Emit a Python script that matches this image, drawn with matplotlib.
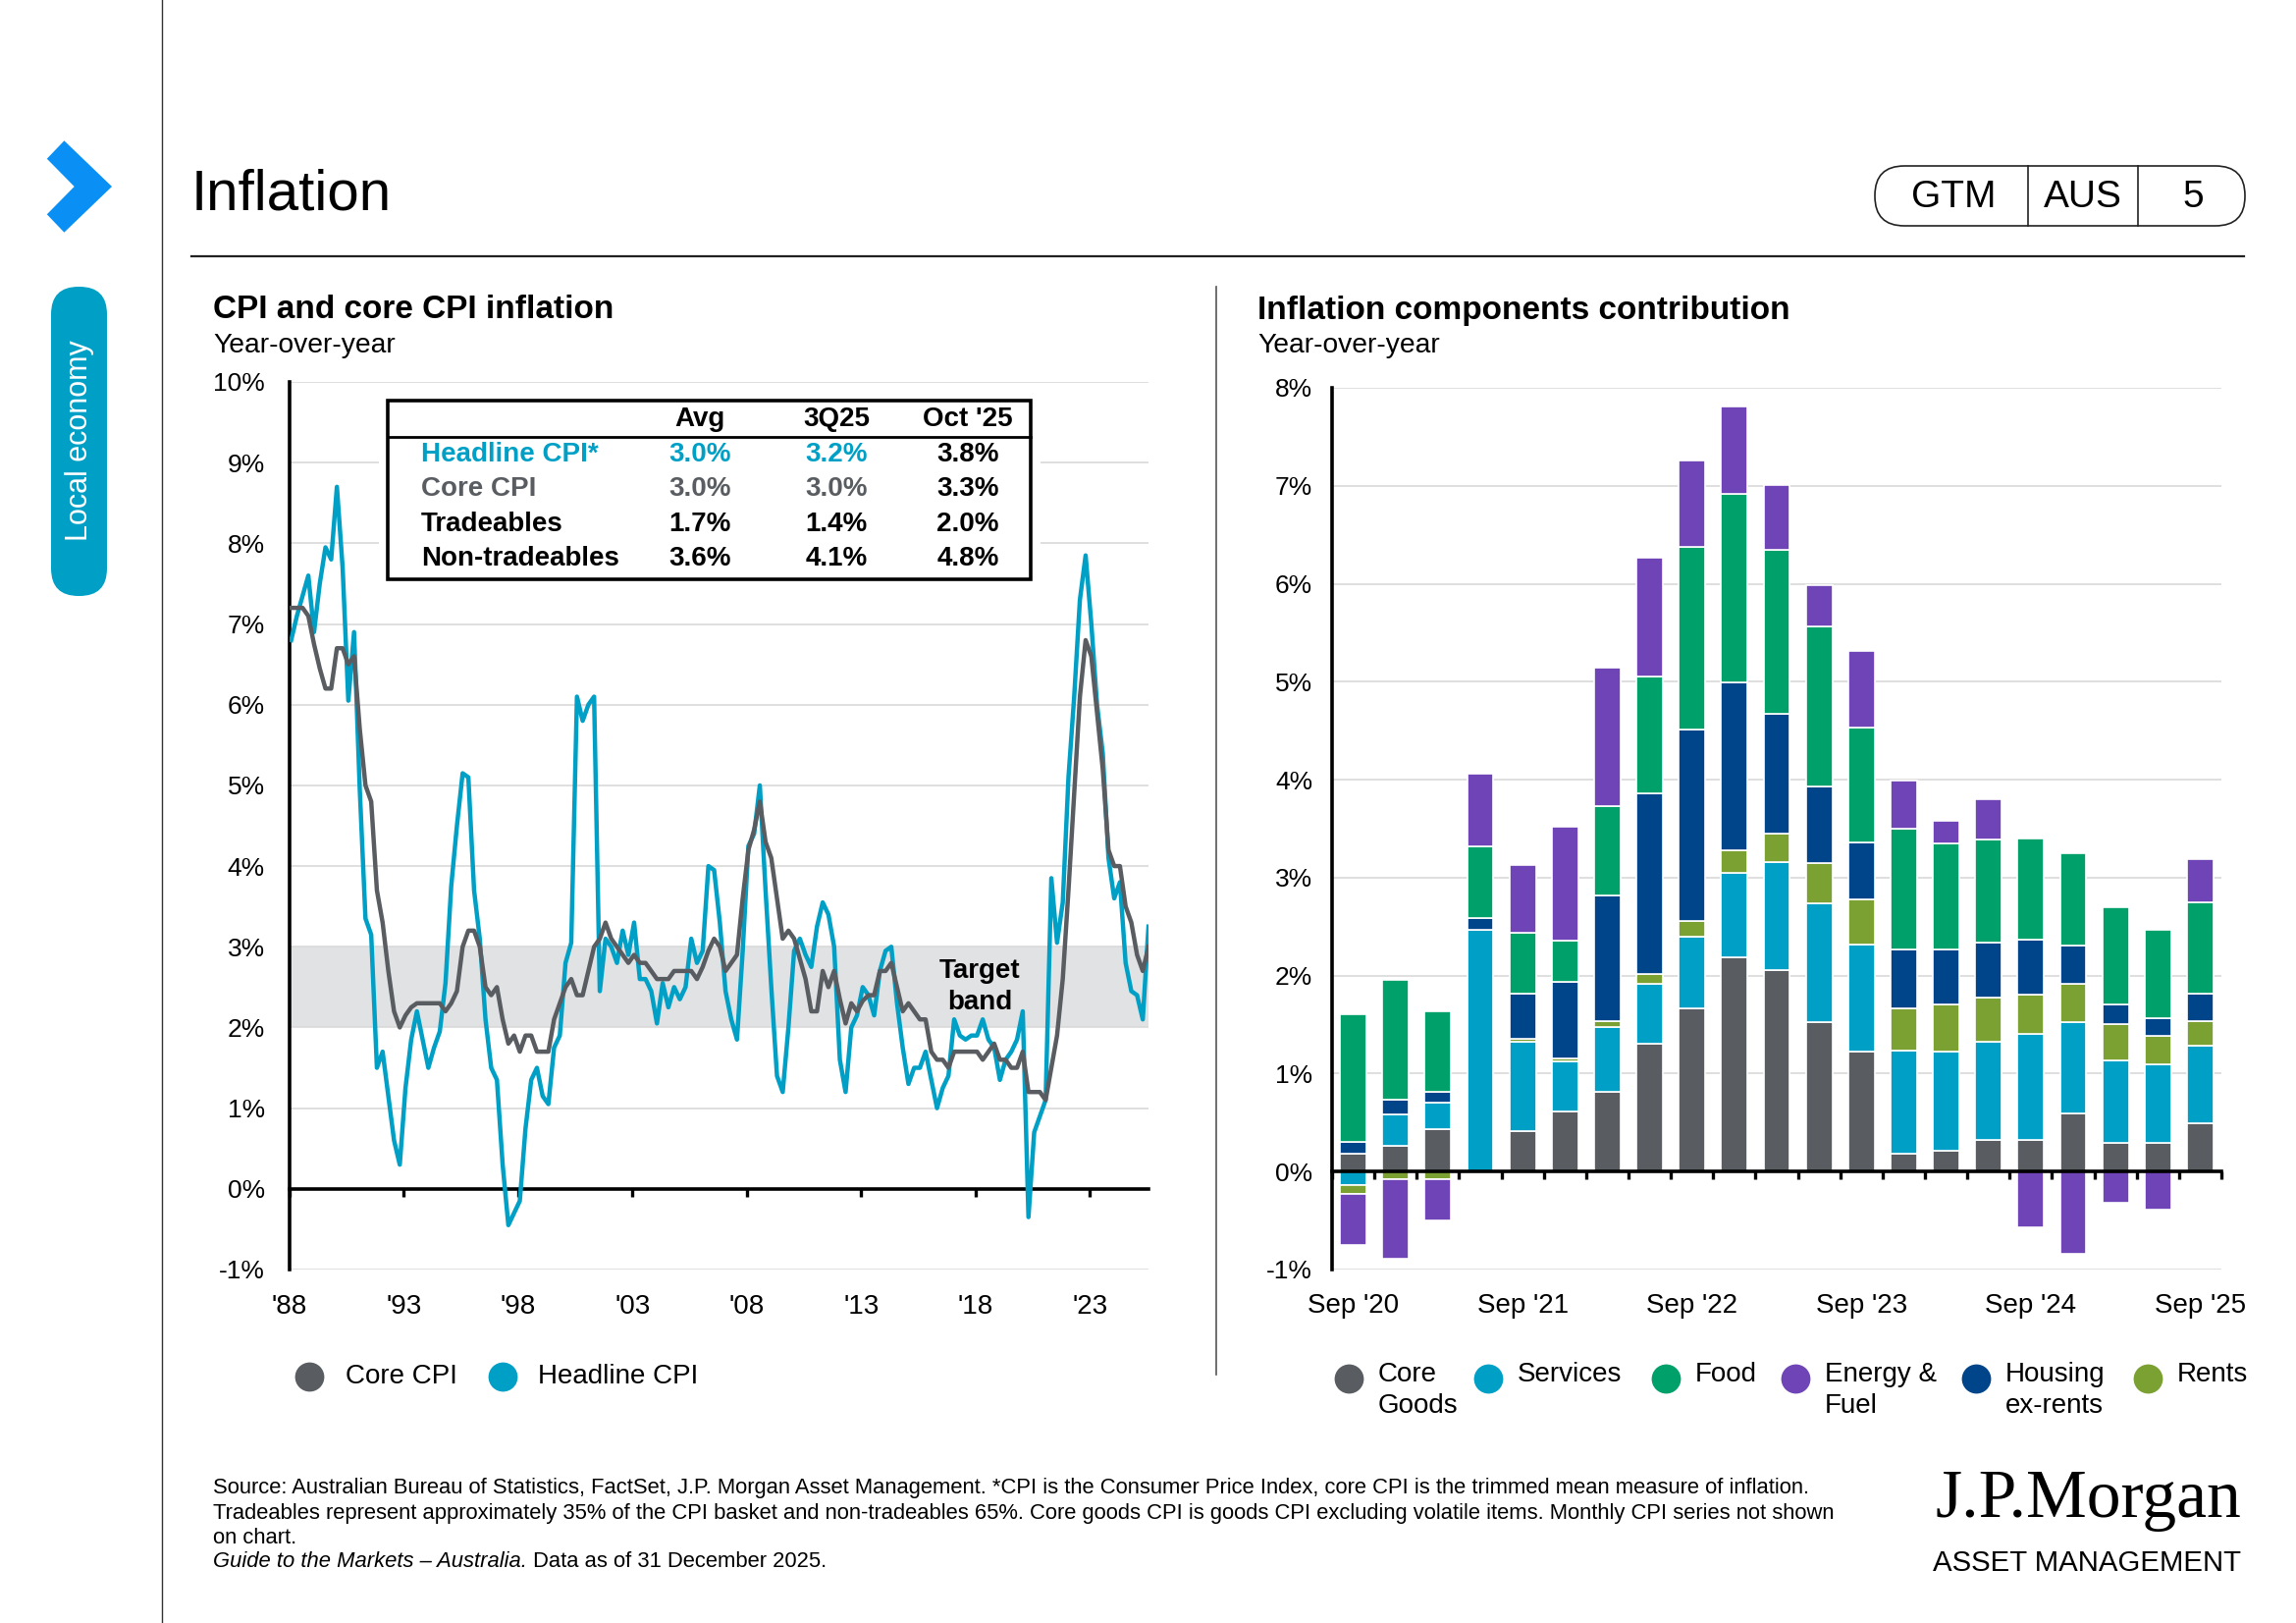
import numpy as np
import pandas as pd
import matplotlib
matplotlib.use("Agg")
import matplotlib.pyplot as plt
from matplotlib.patches import Rectangle, FancyBboxPatch, Polygon

plt.rcParams['font.family'] = ['Liberation Sans', 'DejaVu Sans']

W, H = 2339, 1653
DPI = 200

TEAL = '#00A0C6'
GREY = '#595D61'
GREEN = '#00A06B'
PURPLE = '#6F44B7'
NAVY = '#00448A'
OLIVE = '#7BA132'
BAND = '#E1E2E4'
GRID = '#D9D9D9'
BLUE = '#0A90F5'

# ---------------- left chart: y/y %, quarterly Mar-1988 .. Sep-2025
quarters = pd.period_range('1988Q1', '2025Q3', freq='Q')
headline_cpi = [
    6.8, 7.1, 7.35, 7.6,    6.9, 7.5, 7.95, 7.8,    8.7, 7.7, 6.05, 6.9,
    4.95, 3.35, 3.15, 1.5,  1.7, 1.15, 0.6, 0.3,    1.25, 1.85, 2.2, 1.85,
    1.5, 1.75, 1.95, 2.55,  3.75, 4.5, 5.15, 5.1,   3.7, 3.1, 2.1, 1.5,
    1.35, 0.3, -0.45, -0.3, -0.15, 0.75, 1.35, 1.5, 1.15, 1.05, 1.75, 1.9,
    2.8, 3.05, 6.1, 5.8,    6.0, 6.1, 2.45, 3.1,    3.0, 2.8, 3.2, 2.9,
    3.3, 2.6, 2.6, 2.45,    2.05, 2.55, 2.25, 2.5,  2.35, 2.5, 3.1, 2.8,
    2.95, 4.0, 3.95, 3.3,   2.45, 2.1, 1.85, 2.95,  4.25, 4.4, 5.0, 3.7,
    2.5, 1.4, 1.2, 2.0,     2.95, 3.1, 2.9, 2.75,   3.25, 3.55, 3.4, 3.0,
    1.6, 1.2, 2.0, 2.15,    2.5, 2.4, 2.15, 2.7,    2.95, 3.0, 2.3, 1.75,
    1.3, 1.5, 1.5, 1.7,     1.35, 1.0, 1.25, 1.4,   2.1, 1.9, 1.85, 1.9,
    1.9, 2.1, 1.85, 1.75,   1.35, 1.6, 1.7, 1.85,   2.2, -0.35, 0.7, 0.9,
    1.1, 3.85, 3.05, 3.55,  5.1, 6.1, 7.3, 7.85,    7.0, 6.0, 5.4, 4.1,
    3.6, 3.8, 2.8, 2.45,    2.4, 2.1, 3.25,
]
core_cpi = [
    7.2, 7.2, 7.2, 7.1,     6.75, 6.45, 6.2, 6.2,   6.7, 6.7, 6.5, 6.6,
    5.7, 5.0, 4.8, 3.7,     3.3, 2.7, 2.2, 2.0,     2.15, 2.25, 2.3, 2.3,
    2.3, 2.3, 2.3, 2.2,     2.3, 2.45, 3.0, 3.2,    3.2, 3.0, 2.5, 2.4,
    2.5, 2.1, 1.8, 1.9,     1.7, 1.9, 1.9, 1.7,     1.7, 1.7, 2.1, 2.3,
    2.5, 2.6, 2.4, 2.4,     2.7, 3.0, 3.1, 3.3,     3.1, 3.0, 2.9, 2.8,
    2.9, 2.8, 2.8, 2.7,     2.6, 2.6, 2.6, 2.7,     2.7, 2.7, 2.7, 2.6,
    2.75, 2.95, 3.1, 3.0,   2.7, 2.8, 2.9, 3.6,     4.2, 4.45, 4.8, 4.3,
    4.1, 3.6, 3.1, 3.2,     3.1, 2.85, 2.6, 2.2,    2.2, 2.7, 2.5, 2.7,
    2.35, 2.05, 2.3, 2.2,   2.33, 2.4, 2.4, 2.7,    2.7, 2.8, 2.5, 2.2,
    2.3, 2.2, 2.1, 2.1,     1.7, 1.6, 1.6, 1.5,     1.7, 1.7, 1.7, 1.7,
    1.7, 1.6, 1.7, 1.8,     1.6, 1.6, 1.5, 1.5,     1.7, 1.2, 1.2, 1.2,
    1.1, 1.5, 1.9, 2.6,     3.7, 4.9, 6.1, 6.8,     6.6, 5.9, 5.2, 4.2,
    4.0, 4.0, 3.5, 3.3,     2.9, 2.7, 3.0,
]
target_band = (2, 3)
year_ticks = list(range(1988, 2024, 5))

table_rows = ['Headline CPI*', 'Core CPI', 'Tradeables', 'Non-tradeables']
table_cols = ['Avg', '3Q25', "Oct '25"]
table_avg = ['3.0%', '3.0%', '1.7%', '3.6%']
table_3q25 = ['3.2%', '3.0%', '1.4%', '4.1%']
table_oct25 = ['3.8%', '3.3%', '2.0%', '4.8%']

# ---------------- right chart: contribution to y/y CPI, ppt, Sep-20 .. Sep-25
comp_quarters = pd.period_range('2020Q3', '2025Q3', freq='Q')
core_goods = [0.18, 0.26, 0.43, 0.00, 0.41, 0.61, 0.81, 1.31, 1.67, 2.19, 2.06,
              1.53, 1.22, 0.18, 0.21, 0.32, 0.32, 0.59, 0.29, 0.29, 0.49]
services = [-0.14, 0.32, 0.27, 2.47, 0.92, 0.51, 0.67, 0.61, 0.73, 0.86, 1.10,
            1.21, 1.10, 1.05, 1.01, 1.01, 1.09, 0.94, 0.84, 0.80, 0.80]
rents = [-0.09, -0.08, -0.08, 0.00, 0.03, 0.03, 0.06, 0.10, 0.16, 0.23, 0.29,
         0.41, 0.46, 0.44, 0.49, 0.45, 0.40, 0.39, 0.38, 0.30, 0.25]
housing_ex_rents = [0.12, 0.15, 0.11, 0.12, 0.46, 0.79, 1.28, 1.84, 1.95, 1.71, 1.22,
                    0.78, 0.58, 0.60, 0.56, 0.56, 0.56, 0.39, 0.20, 0.18, 0.28]
food = [1.31, 1.23, 0.83, 0.73, 0.62, 0.42, 0.91, 1.19, 1.87, 1.93, 1.68,
        1.63, 1.17, 1.23, 1.08, 1.05, 1.03, 0.94, 0.99, 0.90, 0.93]
energy_fuel = [-0.52, -0.81, -0.42, 0.74, 0.69, 1.16, 1.41, 1.22, 0.88, 0.89, 0.66,
               0.43, 0.78, 0.49, 0.23, 0.41, -0.57, -0.84, -0.32, -0.39, 0.44]

# stacking order bottom -> top, legend order differs
stack = [('Core Goods', core_goods, GREY), ('Services', services, TEAL),
         ('Rents', rents, OLIVE), ('Housing ex-rents', housing_ex_rents, NAVY),
         ('Food', food, GREEN), ('Energy & Fuel', energy_fuel, PURPLE)]
comp_legend = [('Core\nGoods', GREY), ('Services', TEAL), ('Food', GREEN),
               ('Energy &\nFuel', PURPLE), ('Housing\nex-rents', NAVY), ('Rents', OLIVE)]


def rect(x0, y0, x1, y1):
    return [x0 / W, 1 - y1 / H, (x1 - x0) / W, (y1 - y0) / H]


fig = plt.figure(figsize=(W / DPI, H / DPI), dpi=DPI)

# ================= left chart
ax1 = fig.add_axes(rect(295, 389, 1170, 1293))
x = np.array([q.year + (q.quarter - 1) / 4 + 0.07 for q in quarters])
ax1.axhspan(*target_band, color=BAND, zorder=0, lw=0)
ax1.plot(x, headline_cpi, color=TEAL, lw=1.6, zorder=3, solid_joinstyle='round')
ax1.plot(x, core_cpi, color=GREY, lw=1.6, zorder=4, solid_joinstyle='round')
ax1.set_xlim(1988, x[-1])
ax1.set_ylim(-1, 10)
ax1.set_yticks(range(-1, 11))
ax1.set_yticklabels([f'{v}%' for v in range(-1, 11)])
ax1.yaxis.grid(True, color=GRID, lw=0.6)
ax1.set_axisbelow(True)
ax1.set_xticks(year_ticks)
ax1.set_xticklabels([f"'{str(y)[2:]}" for y in year_ticks])
ax1.text(2018.2, 2.5, 'Target\nband', ha='center', va='center', fontsize=10,
         fontweight='bold', linespacing=1.3, zorder=5)

# ================= right chart
ax2 = fig.add_axes(rect(1357, 395, 2263, 1293))
pos = np.arange(len(comp_quarters))
pos_base = np.zeros(len(pos))
neg_base = np.zeros(len(pos))
for name, vals, col in stack:
    v = np.array(vals)
    bottom = np.where(v >= 0, pos_base, neg_base)
    ax2.bar(pos, v, 0.62, bottom=bottom, color=col, edgecolor='white', linewidth=0.6, zorder=2)
    pos_base += np.where(v >= 0, v, 0)
    neg_base += np.where(v < 0, v, 0)
ax2.set_xlim(-0.5, len(pos) - 0.5)
ax2.set_ylim(-1, 8)
ax2.set_yticks(range(-1, 9))
ax2.set_yticklabels([f'{v}%' for v in range(-1, 9)])
ax2.yaxis.grid(True, color=GRID, lw=0.6)
ax2.set_axisbelow(True)
sep_idx = [i for i, q in enumerate(comp_quarters) if q.quarter == 3]
ax2.set_xticks(sep_idx)
ax2.set_xticklabels([f"Sep '{str(comp_quarters[i].year)[2:]}" for i in sep_idx])
ax2.set_xticks(np.arange(-0.5, len(pos), 1), minor=True)

for ax, ypad, xpad, tl in ((ax1, 9, 36, 2.7), (ax2, 7.2, 44.6, 0)):
    for s in ('top', 'right'):
        ax.spines[s].set_visible(False)
    ax.spines['left'].set_linewidth(1.3)
    ax.spines['bottom'].set_linewidth(1.3)
    ax.spines['bottom'].set_position(('data', 0))
    ax.tick_params(axis='y', length=0, pad=ypad, labelsize=9.5)
    ax.tick_params(axis='x', which='major', length=tl, width=1.2, direction='out',
                   pad=xpad, labelsize=10)
ax2.tick_params(axis='x', which='minor', length=2.9, width=1.2, direction='out')

# ================= page decoration (pixel coordinates)
deco = fig.add_axes([0, 0, 1, 1], zorder=10)
deco.set_xlim(0, W)
deco.set_ylim(H, 0)
deco.axis('off')

deco.plot([165, 165], [0, H], color='#333333', lw=0.5)
deco.add_patch(Polygon([(47.8, 161.7), (65.4, 143.3), (114, 190), (65.4, 236.7),
                        (47.8, 218.3), (75.7, 190)], closed=True, color=BLUE, lw=0))
deco.add_patch(FancyBboxPatch((52, 292), 57, 315, boxstyle='round,pad=0,rounding_size=28',
                              color=TEAL, lw=0))
deco.text(80.5, 449, 'Local economy', rotation=90, color='white', fontsize=11,
          ha='center', va='center')

deco.text(195, 199, 'Inflation', fontsize=21, ha='left', va='center')
deco.plot([195, 2286], [261, 261], color='#222222', lw=0.8)

deco.add_patch(FancyBboxPatch((1910, 169), 377, 61, boxstyle='round,pad=0,rounding_size=30',
                              facecolor='white', edgecolor='#222222', lw=0.6))
for xd in (2066, 2178):
    deco.plot([xd, xd], [169, 230], color='#222222', lw=0.6)
for xt, s in ((1990, 'GTM'), (2122, 'AUS'), (2234, '5')):
    deco.text(xt, 201, s, fontsize=14, ha='center', va='center')

deco.plot([1239, 1239], [292, 1400], color='#555555', lw=0.6)

for xt, t in ((217, 'CPI and core CPI inflation'), (1281, 'Inflation components contribution')):
    deco.text(xt, 316, t, fontsize=12, fontweight='bold', ha='left', va='center')
    deco.text(xt, 352, 'Year-over-year', fontsize=10.2, ha='left', va='center')

# summary table
deco.add_patch(Rectangle((386, 399), 674, 201, facecolor='white', edgecolor='none', zorder=1))
deco.add_patch(Rectangle((395, 408), 655, 182, facecolor='none', edgecolor='black',
                         lw=1.3, zorder=2))
deco.plot([395, 1050], [445, 445], color='black', lw=1.0, zorder=2)
col_x = [713, 852, 986]
for cx, c in zip(col_x, table_cols):
    deco.text(cx, 427, c, fontsize=10, fontweight='bold', ha='center', va='center', zorder=3)
row_colors = [TEAL, GREY, 'black', 'black']
for i, ry in enumerate([463, 498, 534, 569]):
    col = row_colors[i]
    deco.text(429, ry, table_rows[i], fontsize=10, fontweight='bold', color=col,
              ha='left', va='center', zorder=3)
    for cx, vals, c in zip(col_x, (table_avg, table_3q25, table_oct25), (col, col, 'black')):
        deco.text(cx, ry, vals[i], fontsize=10, fontweight='bold', color=c,
                  ha='center', va='center', zorder=3)

# legends
for mx, tx, lab, col in ((315, 352, 'Core CPI', GREY), (512, 548, 'Headline CPI', TEAL)):
    deco.scatter([mx], [1402], s=115, color=col, lw=0)
    deco.text(tx, 1402, lab, fontsize=10, ha='left', va='center')
leg_mx = [1374, 1516, 1697, 1829, 2013, 2188]
for mx, (lab, col) in zip(leg_mx, comp_legend):
    deco.scatter([mx], [1404], s=115, color=col, lw=0)
    deco.text(mx + 30, 1387, lab, fontsize=10, ha='left', va='top', linespacing=1.3)

# footer
foot = [
    'Source: Australian Bureau of Statistics, FactSet, J.P. Morgan Asset Management. '
    '*CPI is the Consumer Price Index, core CPI is the trimmed mean measure of inflation.',
    'Tradeables represent approximately 35% of the CPI basket and non-tradeables 65%. '
    'Core goods CPI is goods CPI excluding volatile items. Monthly CPI series not shown',
    'on chart.',
]
for fy, line in zip((1516, 1541, 1566), foot):
    deco.text(217, fy, line, fontsize=7.95, ha='left', va='center')
t_it = deco.text(217, 1591, 'Guide to the Markets \u2013 Australia.', fontsize=7.95,
                 style='italic', ha='left', va='center')
fig.canvas.draw()
x_end = t_it.get_window_extent().x1
deco.text(x_end, 1591, ' Data as of 31 December 2025.', fontsize=7.95, ha='left', va='center')

deco.text(2127, 1545, 'J.P.Morgan', fontsize=25, family='Liberation Serif',
          ha='center', va='baseline')
deco.text(2126, 1600, 'ASSET MANAGEMENT', fontsize=10.6, ha='center', va='baseline')

fig.savefig('out.png', dpi=DPI, facecolor='white')
